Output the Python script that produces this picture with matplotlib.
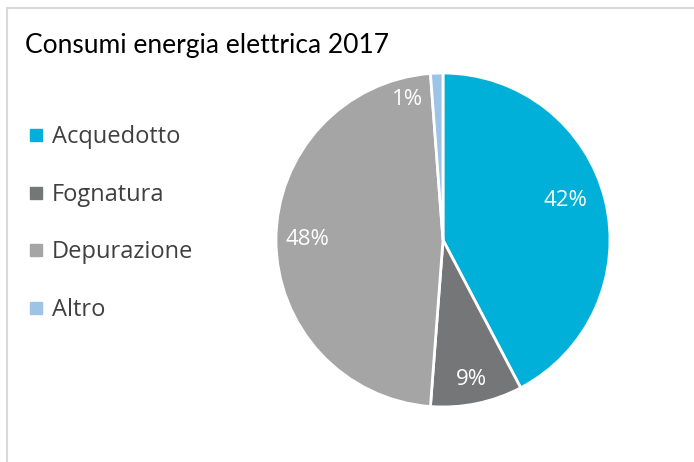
import numpy as np
import matplotlib.pyplot as plt
from matplotlib.lines import Line2D

categories = ['Acquedotto', 'Fognatura', 'Depurazione', 'Altro']
values = [42.3, 8.9, 47.6, 1.2]
pct_labels = ['42%', '9%', '48%', '1%']
colors = ['#00B0D8', '#757678', '#A5A5A5', '#9DC3E6']

# label placement (fraction of radius, angular shift in degrees)
label_dist = [0.77, 0.85, 0.81, 0.87]
label_shift = [4, 0, 0, 12]

W, H = 694, 462
fig = plt.figure(figsize=(W / 100, H / 100), dpi=100)

# chart border (top and left visible)
fig.add_artist(Line2D([7 / W, 7 / W], [0, 1 - 8 / H], color='#D9D9D9', lw=1.5))
fig.add_artist(Line2D([7 / W, 1], [1 - 8 / H, 1 - 8 / H], color='#D9D9D9', lw=1.5))

fig.text(25 / W, 1 - 45 / H, 'Consumi energia elettrica 2017', fontsize=19,
         family='Lato', color='black', va='center', ha='left')

cx, cy, r = 443, 240, 167
ax = fig.add_axes([(cx - r) / W, (H - cy - r) / H, 2 * r / W, 2 * r / H])
wedges, _ = ax.pie(values, colors=colors, startangle=90, counterclock=False,
                   wedgeprops=dict(edgecolor='white', linewidth=2))
ax.set_xlim(-1, 1)
ax.set_ylim(-1, 1)
ax.set_aspect('equal')
ax.axis('off')

for w, lab, d, s in zip(wedges, pct_labels, label_dist, label_shift):
    ang = np.deg2rad((w.theta1 + w.theta2) / 2 + s)
    ax.text(d * np.cos(ang), d * np.sin(ang), lab, color='white', fontsize=16,
            family='Open Sans', ha='center', va='center')

handles = [Line2D([], [], marker='s', ls='none', markersize=8, color=c) for c in colors]
leg = fig.legend(handles, categories, loc='upper left', bbox_to_anchor=(5 / W, 1 - 104 / H),
                 frameon=False, labelspacing=1.42, handletextpad=0.3, handlelength=0.8,
                 prop=dict(family='Open Sans', size=17))
for t in leg.get_texts():
    t.set_color('#404040')

fig.savefig('out.png', dpi=100)
